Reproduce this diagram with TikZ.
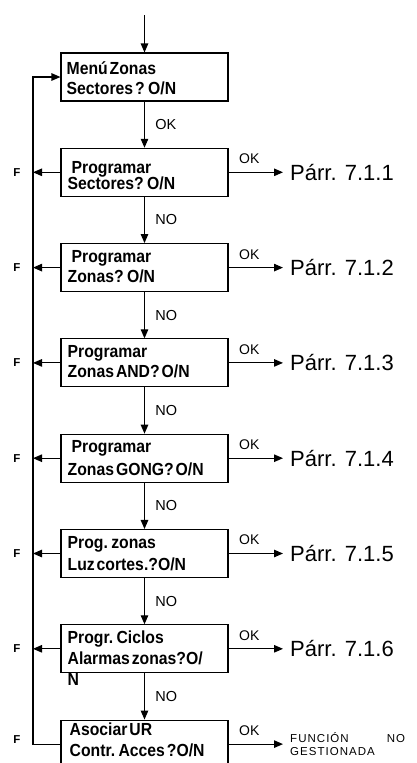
\documentclass[tikz,border=0pt]{standalone}
\usepackage{fontspec}
\setmainfont{Liberation Sans}
\newfontfamily\narrowfont[FakeStretch=0.9,WordSpace=0.45]{Liberation Sans}
\newfontfamily\spacedfont[LetterSpace=9]{Liberation Sans}
\usetikzlibrary{arrows.meta}
\newcommand{\widthbox}{167pt}
\newcommand{\heightbox}{48pt}
\newcommand{\boxgap}{95.3}
\tikzset{
    flowbox/.style={draw, rectangle, line width=1.1pt, minimum width=\widthbox, minimum height=\heightbox, inner sep=0pt},
    boxtext/.style={anchor=base west, align=left, inner sep=0pt, font=\narrowfont\bfseries\fontsize{17.5}{21}\selectfont},
    flow/.style={line width=1.1pt, -{Triangle[length=9pt, width=7.5pt]}},
    flowlabel/.style={midway, right, xshift=7pt, font=\fontsize{14.5}{16}\selectfont},
    oklabel/.style={pos=0.38, above, yshift=4.5pt, font=\fontsize{14}{16}\selectfont},
    flabel/.style={font=\bfseries\fontsize{11.5}{12}\selectfont},
    target/.style={anchor=west, inner xsep=7pt, font=\fontsize{22}{24}\selectfont},
    note/.style={anchor=west, inner xsep=7pt, inner ysep=0pt, text width=115pt, align=left, font=\spacedfont\fontsize{11.5}{13}\selectfont}
}
\begin{document}
\begin{tikzpicture}[x=1pt, y=-1pt]
    \path[use as bounding box, clip] (0,0) rectangle (417,763);
    \coordinate (entry) at (144.5,15);
    \coordinate (bus) at (33,0);
    \coordinate (fcol) at (17,0);
    \coordinate (parrcol) at (283,0);

    % the eight menu boxes, one under the other
    \path
        (144.5,77) node[flowbox] (b1) {}
        ++(0,\boxgap) node[flowbox] (b2) {}
        ++(0,\boxgap) node[flowbox] (b3) {}
        ++(0,\boxgap) node[flowbox] (b4) {}
        ++(0,\boxgap) node[flowbox] (b5) {}
        ++(0,\boxgap) node[flowbox] (b6) {}
        ++(0,\boxgap) node[flowbox] (b7) {}
        ++(0,\boxgap) node[flowbox] (b8) {};

    % base of the last line
    \node[boxtext] (t1) at ([xshift=6pt, yshift=-42pt]b1.north west) {Menú Zonas\\[-1pt]Sectores ? O/N};
    \node[boxtext] (t2) at ([xshift=7pt, yshift=-42pt]b2.north west) {\hspace*{4pt}Programar\\[-5pt]Sectores? O/N};
    \node[boxtext] (t3) at ([xshift=7pt, yshift=-39pt]b3.north west) {\hspace*{4pt}Programar\\[-1pt]Zonas? O/N};
    \node[boxtext] (t4) at ([xshift=7pt, yshift=-39pt]b4.north west) {Programar\\[-1pt]Zonas AND? O/N};
    \node[boxtext] (t5) at ([xshift=7pt, yshift=-42pt]b5.north west) {\hspace*{4pt}Programar\\[2pt]Zonas GONG? O/N};
    \node[boxtext] (t6) at ([xshift=7pt, yshift=-42pt]b6.north west) {Prog. zonas\\[1pt]Luz cortes.?O/N};
    \node[boxtext] (t7) at ([xshift=7pt, yshift=-61pt]b7.north west) {Progr. Ciclos\\Alarmas zonas?O/\\N};
    \node[boxtext] (t8) at ([xshift=9pt, yshift=-37pt]b8.north west) {Asociar UR\\Contr. Acces ?O/N};

    \draw[flow] (entry) -- (b1);
    \draw[flow] (b1) -- node[flowlabel] (v1) {OK} (b2);
    \foreach \i [evaluate=\i as \j using int(\i+1)] in {2,...,7}
        \draw[flow] (b\i) -- node[flowlabel] (v\i) {NO} (b\j);

    % exits to the right
    \foreach \i/\pnum in {2/1,3/2,4/3,5/4,6/5,7/6} {
        \node[target] (p\i) at (b\i.center -| parrcol) {Párr. 7.1.\pnum};
        \draw[flow] (b\i) -- node[oklabel] (ok\i) {OK} (p\i);
    }
    \node[note] (p8) at (b8.center -| parrcol) {FUNCIÓN\hfill NO\\GESTIONADA};
    \draw[flow] (b8) -- node[oklabel] (ok8) {OK} (p8);

    % F: back to the first box
    \foreach \i in {2,...,7} {
        \node[flabel] (f\i) at (b\i.center -| fcol) {F};
        \draw[flow] (b\i.west) -- (b\i.west -| bus);
    }
    \node[flabel] (f8) at ([yshift=5pt]b8.center -| fcol) {F};
    \draw[flow] (b8.west) -- (b8.west -| bus) -- (b1.west -| bus) -- (b1.west);
\end{tikzpicture}
\end{document}
